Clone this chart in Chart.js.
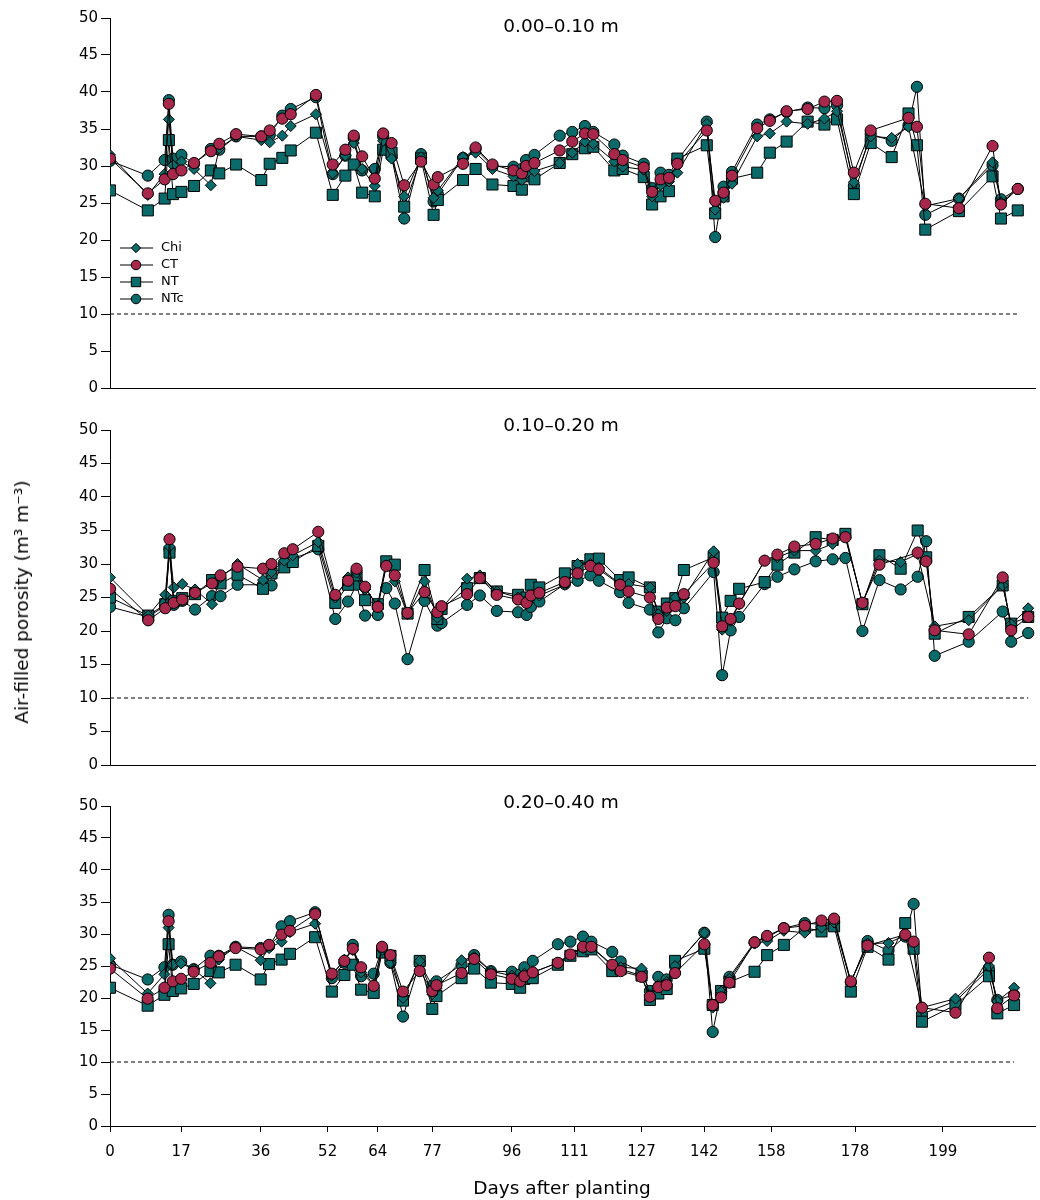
<!DOCTYPE html>
<html>
<head>
<meta charset="utf-8">
<script src="https://cdn.jsdelivr.net/npm/chart.js@4.4.1/dist/chart.umd.min.js"></script>
<style>
  body { margin: 0; background: #fff; font-family: "DejaVu Sans", sans-serif; }
  #wrap { position: relative; width: 1040px; height: 1200px; }
  canvas { position: absolute; left: 0; }
  .lbl { position: absolute; font-size: 18.5px; line-height: 22px; color: #000; white-space: nowrap; transform: translateX(-50%); }
  #ytitle { position: absolute; left: 22px; top: 602px; font-size: 18.5px; line-height: 22px; white-space: nowrap;
            transform: translate(-50%, -50%) rotate(-90deg); }
</style>
</head>
<body>
<div id="wrap">
  <canvas id="p1" width="1040" height="400" style="top:0px"></canvas>
  <canvas id="p2" width="1040" height="372" style="top:405px"></canvas>
  <canvas id="p3" width="1040" height="420" style="top:780px"></canvas>
  <div class="lbl" style="left:561px; top:15px;">0.00–0.10 m</div>
  <div class="lbl" style="left:561px; top:414px;">0.10–0.20 m</div>
  <div class="lbl" style="left:561px; top:791px;">0.20–0.40 m</div>
  <div class="lbl" style="left:562px; top:1177px;">Days after planting</div>
  <div id="ytitle">Air-filled porosity (m³ m⁻³)</div>
</div>

<script>
// dias de medição (dias após o plantio)
const days = [0, 9, 13, 14, 15, 17, 20, 24, 26, 30,
  36, 38, 41, 43, 49, 53, 56, 58, 60, 63,
  65, 67, 70, 74, 77, 78, 84, 87, 91, 96,
  98, 99, 101, 107, 110, 113, 115, 120, 122, 127,
  129, 131, 133, 135, 142, 144, 146, 148, 154, 157,
  161, 166, 170, 173, 177, 181, 186, 190, 192, 194,
  202, 210, 212, 216];

const xTicks = [0, 17, 36, 52, 64, 77, 96, 111, 127, 142, 158, 178, 199];
const yTicks = [0, 5, 10, 15, 20, 25, 30, 35, 40, 45, 50];
const seriesNames = ['Chi', 'CT', 'NT', 'NTc'];
const refDays = [0, 216];
const refLine = [10, 10];

// 0.00-0.10 m
const chi1 = [31.5, 26.1, 28.9, 36.3, 30.1, 30.6, 29.6, 27.4, 32.4, 34.0,
  33.5, 33.2, 34.1, 35.4, 37.0, 29.0, 31.4, 33.1, 29.6, 27.3,
  33.4, 31.0, 25.9, 31.2, 25.7, 26.7, 31.2, 31.8, 29.6, 28.6,
  28.1, 29.0, 29.3, 30.4, 31.8, 33.3, 33.0, 30.6, 29.9, 29.5,
  25.9, 27.4, 27.9, 29.1, 35.7, 24.1, 25.7, 27.6, 34.0, 34.4,
  36.0, 35.7, 36.4, 37.4, 27.8, 34.0, 33.8, 35.3, null, 24.6,
  25.6, 30.5, 25.1, 26.9];
const ct1 = [31.0, 26.3, 28.2, 38.4, 28.9, 29.4, 30.4, 32.0, 33.0, 34.3,
  34.0, 34.8, 36.4, 37.0, 39.6, 30.2, 32.2, 34.1, 31.3, 28.3,
  34.4, 33.1, 27.4, 30.6, 27.5, 28.5, 30.3, 32.5, 30.2, 29.4,
  29.0, 30.0, 30.4, 32.1, 33.3, 34.4, 34.3, 31.6, 30.8, 29.8,
  26.5, 28.2, 28.4, 30.3, 34.8, 25.3, 26.4, 28.7, 35.1, 36.1,
  37.4, 37.7, 38.7, 38.8, 29.1, 34.8, null, 36.5, 35.3, 24.9,
  24.3, 32.7, 24.8, 26.9];
const nt1 = [26.7, 24.0, 25.6, 33.5, 26.2, 26.5, 27.3, 29.4, 29.0, 30.2,
  28.1, 30.3, 31.1, 32.1, 34.5, 26.1, 28.7, 30.2, 26.4, 25.9,
  32.2, 31.8, 24.5, 31.0, 23.4, 25.4, 28.1, 29.6, 27.5, 27.3,
  26.8, 28.6, 28.2, 30.4, 31.6, 32.4, 32.6, 29.4, 29.6, 28.5,
  24.8, 25.9, 26.6, 31.0, 32.8, 23.6, 25.9, 28.3, 29.1, 31.8,
  33.3, 36.0, 35.6, 36.3, 26.2, 33.1, 31.2, 37.1, 32.8, 21.4,
  23.9, 28.6, 22.9, 24.0];
const ntc1 = [30.7, 28.7, 30.8, 38.9, 31.0, 31.5, 30.3, 32.3, 32.2, 34.0,
  34.0, 34.2, 36.8, 37.7, 39.3, 28.9, 31.4, 33.8, 29.4, 29.6,
  34.0, 31.3, 22.9, 31.6, 25.2, 26.2, 31.1, 32.3, 30.0, 29.9,
  29.6, 30.8, 31.5, 34.1, 34.6, 35.4, 34.6, 32.9, 31.4, 30.3,
  27.0, 29.1, 28.8, 30.8, 36.0, 20.4, 27.2, 29.2, 35.6, 36.3,
  37.3, 37.9, 37.8, 38.2, 27.3, 34.3, 33.4, 35.5, 40.7, 23.4,
  25.6, 30.1, 25.5, 26.9];

// 0.10-0.20 m
const chi2 = [28.0, 22.3, 25.4, 32.6, 26.5, 27.0, 26.2, 24.0, 28.0, 30.0,
  27.6, 28.8, 30.5, 31.3, 33.3, 25.0, 28.0, 28.7, 26.2, 23.8,
  29.8, 27.4, 22.5, 27.4, 22.0, 23.4, 27.8, 28.3, 25.9, 25.0,
  24.6, 25.0, 25.3, 26.9, 30.0, 30.0, 29.5, 27.0, 27.0, 26.5,
  22.5, 23.0, 25.0, 25.0, 31.9, 20.2, 21.5, 24.0, 30.5, 31.0,
  32.0, 32.0, 33.0, 34.0, 24.2, 30.5, 30.3, 31.5, null, 20.7,
  21.6, 26.8, 21.0, 23.4];
const ct2 = [26.3, 21.6, 23.4, 33.7, 24.2, 24.7, 25.7, 27.1, 28.3, 29.6,
  29.3, 30.0, 31.6, 32.2, 34.8, 25.4, 27.5, 29.3, 26.6, 23.6,
  29.7, 28.3, 22.7, 25.8, 22.8, 23.7, 25.5, 27.9, 25.4, 24.7,
  24.2, 25.3, 25.7, 27.3, 28.6, 29.7, 29.2, 26.9, 25.9, 25.0,
  21.8, 23.5, 23.7, 25.5, 30.2, 20.7, 21.8, 24.1, 30.5, 31.4,
  32.6, 33.0, 33.8, 34.0, 24.2, 29.9, null, 31.7, 30.4, 20.1,
  19.5, 28.0, 20.1, 22.1];
const nt2 = [25.0, 22.3, 24.0, 31.7, 24.5, 24.9, 25.5, 27.6, 27.1, 28.4,
  26.3, 28.6, 29.5, 30.3, 32.7, 24.2, 26.9, 28.3, 24.6, 24.0,
  30.4, 29.9, 22.6, 29.1, 21.8, 23.3, 26.4, 27.9, 25.9, 25.4,
  25.0, 26.9, 26.5, 28.6, 29.7, 30.7, 30.8, 27.6, 28.0, 26.5,
  22.9, 24.1, 24.9, 29.1, 31.0, 22.0, 24.5, 26.3, 27.3, 29.9,
  31.7, 34.0, 33.6, 34.5, 24.0, 31.3, 29.3, 35.0, 31.0, 19.6,
  22.1, 26.8, 21.1, 22.1];
const ntc2 = [23.6, 22.1, 23.8, 32.2, 23.9, 24.5, 23.2, 25.2, 25.2, 26.9,
  26.9, 26.8, 30.2, 30.8, 32.2, 21.8, 24.4, 26.9, 22.3, 22.4,
  26.4, 24.1, 15.8, 24.5, 20.8, 21.2, 23.9, 25.3, 23.0, 22.8,
  22.4, 23.6, 24.4, 27.0, 27.5, 28.3, 27.5, 25.8, 24.2, 23.2,
  19.8, 21.9, 21.6, 23.4, 28.8, 13.4, 20.1, 22.1, 27.0, 28.1,
  29.2, 30.4, 30.7, 30.9, 20.0, 27.6, 26.2, 28.1, 33.4, 16.3,
  18.4, 22.9, 18.4, 19.7];

// 0.20-0.40 m
const chi3 = [26.2, 20.7, 23.7, 31.0, 25.2, 25.4, 24.5, 22.3, 26.0, 28.0,
  25.9, 27.8, 28.8, 30.3, 31.6, 23.5, 26.0, 27.5, 24.0, 22.0,
  27.5, 25.5, 20.0, 25.8, 20.6, 21.5, 25.9, 26.4, 24.2, 23.5,
  23.0, 23.8, 24.0, 25.5, 26.8, 27.8, 28.0, 25.0, 24.8, 24.6,
  20.5, 22.0, 22.5, 25.0, 30.2, 18.5, 21.0, 23.0, 28.5, 28.9,
  30.5, 30.2, 31.0, 31.8, 22.5, 28.5, 28.6, 29.8, null, 18.5,
  19.9, 25.0, 19.5, 21.6];
const ct3 = [24.6, 19.9, 21.6, 32.0, 22.6, 23.0, 24.1, 25.5, 26.5, 27.8,
  27.6, 28.3, 29.9, 30.5, 33.1, 23.8, 25.8, 27.7, 24.8, 21.9,
  28.0, 26.7, 21.0, 24.2, 21.1, 22.0, 23.9, 26.1, 23.7, 23.0,
  22.6, 23.4, 24.0, 25.5, 26.8, 28.0, 28.0, 25.2, 24.2, 23.3,
  20.2, 21.7, 22.0, 23.9, 28.4, 18.9, 20.1, 22.4, 28.7, 29.7,
  30.9, 31.3, 32.1, 32.4, 22.6, 28.2, null, 29.9, 28.8, 18.5,
  17.7, 26.3, 18.4, 20.4];
const nt3 = [21.6, 18.8, 20.5, 28.4, 21.1, 21.5, 22.2, 24.2, 24.0, 25.2,
  22.9, 25.3, 26.0, 26.9, 29.5, 21.0, 23.6, 25.2, 21.3, 20.8,
  27.1, 26.6, 19.6, 25.8, 18.3, 20.3, 23.1, 24.6, 22.4, 22.2,
  21.6, 23.0, 23.1, 25.2, 26.6, 27.3, 27.6, 24.2, 24.5, 23.5,
  19.7, 20.7, 21.4, 25.8, 27.7, 18.9, 21.1, 22.5, 24.1, 26.7,
  28.3, 31.0, 30.4, 31.2, 21.0, 28.0, 26.0, 31.7, 27.7, 16.3,
  18.9, 23.4, 17.6, 18.9];
const ntc3 = [25.2, 22.9, 24.8, 33.0, 25.2, 25.7, 24.5, 26.6, 26.6, 28.0,
  27.8, 28.1, 31.2, 32.0, 33.4, 23.1, 25.5, 28.3, 23.4, 23.8,
  27.8, 25.5, 17.1, 25.5, 21.9, 22.6, 25.2, 26.7, 24.2, 24.1,
  23.7, 24.8, 25.8, 28.4, 28.8, 29.6, 28.8, 27.2, 25.7, 24.0,
  21.1, 23.3, 22.9, 25.0, 30.2, 14.7, 21.0, 23.3, 28.7, 29.5,
  30.9, 31.7, 31.5, 32.0, 22.4, 28.9, 27.4, 29.6, 34.7, 17.5,
  19.5, 24.5, 19.7, 20.5];

const TEAL = '#0b6b6b';
const RED = '#a8284c';

const markers = {
  Chi: { style: 'rectRot', radius: 5.5, color: TEAL, order: 2 },
  CT: { style: 'circle', radius: 5.6, color: RED, order: 1 },
  NT: { style: 'rect', radius: 7.8, color: TEAL, order: 3 },
  NTc: { style: 'circle', radius: 5.6, color: TEAL, order: 4 },
};

Chart.defaults.font.family = '"DejaVu Sans", sans-serif';
Chart.defaults.color = '#000';

// legenda dentro do primeiro painel
const inLegend = {
  id: 'inLegend',
  afterDraw(chart, args, opts) {
    if (!opts.show) return;
    const ctx = chart.ctx;
    ctx.save();
    ctx.font = '13px "DejaVu Sans"';
    ctx.textBaseline = 'middle';
    seriesNames.forEach((name, i) => {
      const m = markers[name];
      const y = 248 + i * 17;
      ctx.strokeStyle = '#000';
      ctx.lineWidth = 1;
      ctx.beginPath();
      ctx.moveTo(120, y);
      ctx.lineTo(153, y);
      ctx.stroke();
      ctx.fillStyle = m.color;
      Chart.helpers.drawPoint(ctx, { pointStyle: m.style, radius: m.radius * 0.85, rotation: 0, borderWidth: 1 }, 136, y);
      ctx.fillStyle = '#000';
      ctx.fillText(name, 161, y);
    });
    ctx.restore();
  }
};

function makePanel(id, series, xMax, opt) {
  const datasets = seriesNames.map((name, k) => {
    const m = markers[name];
    return {
      label: name,
      data: days.map((d, i) => ({ x: d, y: series[k][i] })),
      borderColor: '#000',
      borderWidth: 1,
      pointStyle: m.style,
      pointRadius: m.radius,
      pointBackgroundColor: m.color,
      pointBorderColor: '#000',
      pointBorderWidth: 1,
      spanGaps: true,
      order: m.order,
    };
  });
  datasets.push({
    label: 'ref',
    data: refDays.map((d, i) => ({ x: d, y: refLine[i] })),
    borderColor: '#000',
    borderWidth: 1,
    borderDash: [4, 3],
    pointRadius: 0,
    order: 5,
  });

  new Chart(document.getElementById(id), {
    type: 'line',
    data: { datasets },
    options: {
      responsive: false,
      animation: false,
      layout: { autoPadding: false, padding: { top: opt.top, right: 5, left: 0, bottom: 0 } },
      plugins: { legend: { display: false }, tooltip: { enabled: false }, inLegend: { show: !!opt.legend } },
      scales: {
        x: {
          type: 'linear',
          min: 0,
          max: xMax,
          afterBuildTicks: (s) => { s.ticks = xTicks.map((v) => ({ value: v })); },
          afterFit: (s) => { s.height = opt.xh; s.paddingRight = 0; s.paddingLeft = 0; },
          ticks: { display: !!opt.labels, font: { size: 15 }, padding: 11, maxRotation: 0, autoSkip: false },
          grid: { display: !!opt.labels, drawOnChartArea: false, tickLength: 6, color: '#000' },
          border: { display: true, color: '#000', width: 1 },
        },
        y: {
          min: 0,
          max: 50,
          afterBuildTicks: (s) => { s.ticks = yTicks.map((v) => ({ value: v })); },
          afterFit: (s) => { s.width = 110; },
          ticks: { font: { size: 15 }, padding: 3 },
          grid: { drawOnChartArea: false, tickLength: 9, color: '#000' },
          border: { display: true, color: '#000', width: 1 },
        },
      },
    },
    plugins: [inLegend],
  });
}

makePanel('p1', [chi1, ct1, nt1, ntc1], 220.1, { top: 18, xh: 7, legend: true });
makePanel('p2', [chi2, ct2, nt2, ntc2], 217.6, { top: 25, xh: 6 });
makePanel('p3', [chi3, ct3, nt3, ntc3], 221.0, { top: 26, xh: 74, labels: true });
</script>
</body>
</html>
